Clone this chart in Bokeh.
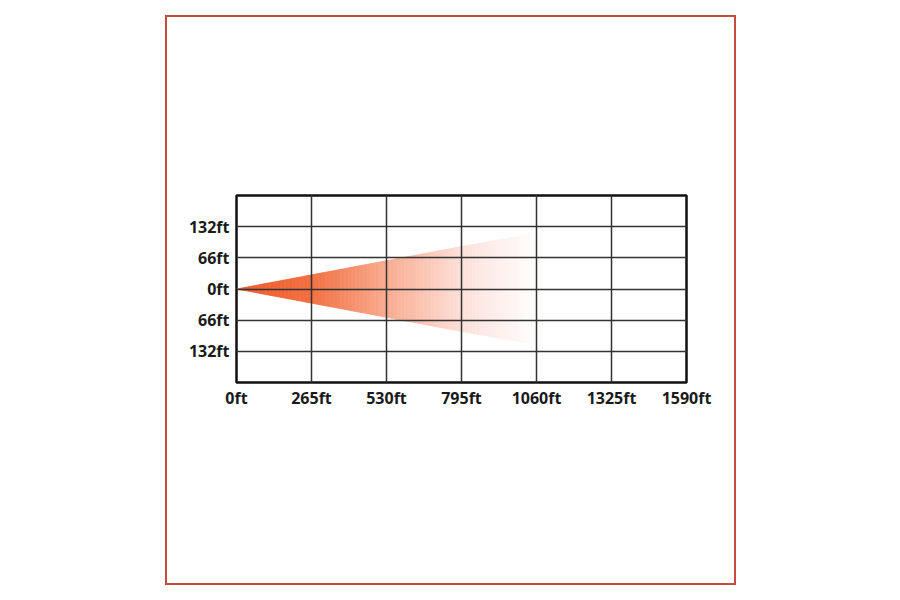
import numpy as np
from bokeh.plotting import figure
from bokeh.layouts import column
from bokeh.models import FixedTicker, Range1d
from bokeh.embed import file_html
from bokeh.resources import INLINE

# ---- data ----
x_ticks = [0, 265, 530, 795, 1060, 1325, 1590]
x_labels = ["0ft", "265ft", "530ft", "795ft", "1060ft", "1325ft", "1590ft"]
y_ticks = [-132, -66, 0, 66, 132]
y_labels = ["132ft", "66ft", "0ft", "66ft", "132ft"]

# beam spread: distance (ft) vs half width (ft) and colour at that distance
beam_dist = [0, 265, 530, 795, 1060]
beam_half = [0, 30, 60, 90, 118]
beam_color = ["#f05a2a", "#f27042", "#f9ac90", "#fde0da", "#ffffff"]

def hex2rgb(h):
    h = h.lstrip("#")
    return np.array([int(h[i:i + 2], 16) for i in (0, 2, 4)], dtype=float)

W, H = 567, 566
p = figure(width=W, height=H, output_backend="svg", toolbar_location=None,
           x_range=Range1d(0, 1590), y_range=Range1d(-198, 198),
           min_border_left=69, min_border_right=48, min_border_top=178,
           min_border_bottom=201, background_fill_color="white",
           border_fill_color="white")

# gradient beam drawn as many thin slices
n = 220
edges = np.linspace(beam_dist[0], beam_dist[-1], n + 1)
rgb = np.array([hex2rgb(c) for c in beam_color])
xs, ys, cols = [], [], []
for i in range(n):
    x0, x1 = edges[i], edges[i + 1]
    h0 = np.interp(x0, beam_dist, beam_half)
    h1 = np.interp(x1, beam_dist, beam_half)
    xm = 0.5 * (x0 + x1)
    c = [np.interp(xm, beam_dist, rgb[:, k]) for k in range(3)]
    cols.append("#%02x%02x%02x" % tuple(int(round(v)) for v in c))
    xs.append([x0, x1 + 0.8, x1 + 0.8, x0])
    ys.append([-h0, -h1, h1, h0])
p.patches(xs, ys, fill_color=cols, line_color=cols, line_width=0.6)

# axes
p.xaxis.ticker = FixedTicker(ticks=x_ticks)
p.yaxis.ticker = FixedTicker(ticks=y_ticks)
p.xaxis.major_label_overrides = {t: l for t, l in zip(x_ticks, x_labels)}
p.yaxis.major_label_overrides = {t: l for t, l in zip(y_ticks, y_labels)}
for ax in (p.xaxis, p.yaxis):
    ax.axis_line_color = None
    ax.major_tick_line_color = None
    ax.minor_tick_line_color = None
    ax.major_label_text_font = "Open Sans"
    ax.major_label_text_font_style = "bold"
    ax.major_label_text_font_size = "16px"
    ax.major_label_text_color = "#1a1a1a"
p.xaxis.major_label_standoff = -2
p.yaxis.major_label_standoff = 1

p.grid.grid_line_color = "#333333"
p.grid.grid_line_width = 1.5
p.grid.level = "overlay"

p.outline_line_color = "#111111"
p.outline_line_width = 2.5

layout = column(p)
layout.margin = (15, 0, 0, 165)
layout.styles = {"border": "2px solid #c94a3e"}

open("out.html", "w").write(file_html(layout, INLINE))
